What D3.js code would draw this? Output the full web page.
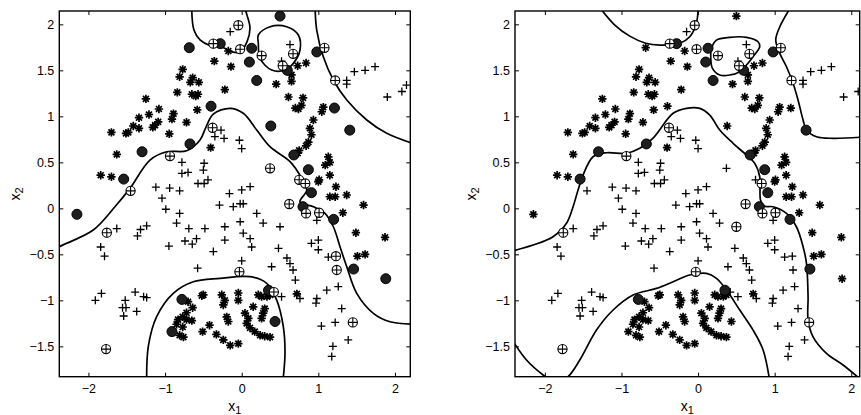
<!DOCTYPE html>
<html lang="en">
<head>
<meta charset="utf-8">
<title>SVM decision boundaries</title>
<script src="https://d3js.org/d3.v7.min.js"></script>
<style>
body { margin: 0; background: #fff; }
text { font-family: "Liberation Sans", Arial, sans-serif; fill: #000; }
</style>
</head>
<body>
<script>
const w = 861, h = 415;

const xTicks = [-2, -1, 0, 1, 2];
const xTickLabels = ["\u22122", "\u22121", "0", "1", "2"];
const yTicks = [-1.5, -1, -0.5, 0, 0.5, 1, 1.5, 2];
const yTickLabels = ["\u22121.5", "\u22121", "\u22120.5", "0", "0.5", "1", "1.5", "2"];

// class "+" samples
const plusPts = [
  [-0.15,1.92],[-0.37,1.79],[-0.044,1.99],[-0.02,1.73],[0.26,1.66],[0.63,1.78],[0.67,1.68],[0.52,1.60],[0.535,1.55],
  [1.08,1.745],[1.22,1.39],[1.37,1.39],[1.37,1.35],[1.47,1.485],[1.61,1.50],[1.74,1.54],[1.90,1.21],[2.09,1.27],[2.15,1.34],
  [-0.38,0.876],[-0.27,0.85],[-0.35,0.78],[-0.23,0.76],[-0.03,0.74],[0,0.65],
  [-0.936,0.568],[-0.78,0.50],[-0.78,0.38],[-0.70,0.39],[-0.49,0.49],[-0.50,0.416],[-0.57,0.27],[-0.49,0.27],[-0.44,0.31],
  [-1.12,0.23],[-0.94,0.22],[-0.81,0.19],[-1.45,0.19],[-1.04,0.11],[-0.16,0.16],[0,0.20],[0.11,0.235],[0.37,0.435],[0.75,0.31],[0.83,0.27],
  [-1.76,-0.265],[-1.63,-0.22],[-1.84,-0.42],[-1.79,-0.52],[-1.36,-0.30],[-1.32,-0.23],[-1.24,-0.19],[-0.99,-0.01],[-0.81,-0.055],
  [-0.85,-0.16],[-0.69,-0.22],[-0.48,-0.22],[-0.74,-0.355],[-0.645,-0.39],[-0.59,-0.33],[-0.95,-0.41],[-0.37,-0.47],[-0.575,-0.65],[-0.29,0.036],
  [-1.91,-1.0],[-1.83,-0.925],[-1.52,-1.0],[-1.555,-1.08],[-1.51,-1.08],[-1.54,-1.17],[-1.37,-1.12],[-1.39,-0.91],[-1.28,-0.96],[-1.24,-0.97],[-1.77,-1.53],
  [-0.11,0.018],[-0.02,0.05],[0.02,0.05],[0.196,-0.055],[-0.02,-0.146],[0.28,-0.16],[0.50,-0.20],[-0.22,-0.20],[-0.22,-0.345],
  [0.02,-0.27],[0.11,-0.33],[0.13,-0.42],[0,-0.57],[0.48,-0.435],[0.59,-0.54],[0.63,-0.60],[0.67,-0.67],[0.70,-0.78],[0.39,-0.635],
  [0.76,-0.98],[0.98,-0.98],[0.97,-1.03],[1.11,-0.89],[1.26,-0.85],[1.305,-1.09],[1.04,-1.28],[1.22,-1.24],[1.45,-1.24],
  [1.39,-1.43],[1.19,-1.50],[1.175,-1.61],[-0.03,-0.69],[0.42,-0.91],[0.52,-0.96],
  [0.91,-0.38],[1.0,-0.345],[1.0,-0.45],[1.13,-0.53],[1.23,-0.52],[1.24,-0.67],[0.62,0.047],[0.84,-0.055],[1.01,-0.048],[0.98,-0.13]
];

// class "*" samples
const starPts = [
  [-0.684,1.746],[-0.28,1.79],[-0.357,1.60],[-0.175,1.71],[-0.14,1.54],[0.50,2.09],[0.13,1.74],[0.10,1.59],
  [-0.77,1.51],[-0.81,1.43],[-0.64,1.42],[-0.67,1.37],[-0.56,1.37],[-0.84,1.26],[-0.65,1.24],[-0.57,1.24],[-0.60,1.22],
  [-1.25,1.19],[-0.58,1.07],[-0.40,1.11],[-0.22,1.29],
  [-1.08,1.08],[-1.21,1.02],[-0.89,1.03],[-1.34,0.985],[-0.91,0.97],[-0.72,0.935],[-1.09,0.94],[-1.13,0.905],[-1.16,0.88],
  [-1.415,0.895],[-1.34,0.87],[-1.48,0.826],[-1.51,0.815],[-1.70,0.826],[-0.945,0.81],
  [-0.405,0.66],[-0.675,0.70],[-1.30,0.615],[-1.63,0.587],[-1.84,0.36],[-1.70,0.343],[-1.54,0.318],[-2.15,-0.065],
  [0.73,1.55],[0.84,1.58],[0.65,1.45],[0.65,1.38],[0.196,1.39],[0.45,1.35],[0.61,1.21],[0.80,1.20],[0.78,1.12],[0.70,1.09],
  [0.74,1.08],[1.065,1.10],[1.045,1.05],[1.21,1.09],[0.935,0.96],[0.89,0.87],[0.91,0.80],[0.87,0.72],[0.84,0.68],[0.75,0.63],
  [0.73,0.60],[0.68,0.58],[0.38,0.895],[1.41,0.85],[1.13,0.56],[1.15,0.50],[1.09,0.47],[0.87,0.42],[1.01,0.31],[1.15,0.36],
  [0.98,1.70],[0.595,1.50],
  [0.91,0.17],[0.80,0.018],[1.20,-0.12],[1.32,-0.048],[1.15,0.126],[1.22,0.126],[1.37,0.145],[1.23,0.235],[1.59,0.036],
  [1.0,0.29],[1.49,-0.265],[1.87,-0.315],[1.51,-0.52],[1.61,-0.50],[1.46,-0.66],[1.88,-0.765],
  [-0.78,-0.99],[-0.70,-1.015],[-0.64,-1.08],[-0.72,-1.135],[-0.77,-1.18],[-0.83,-1.21],[-0.85,-1.26],[-0.72,-1.21],
  [-0.77,-1.29],[-0.81,-1.38],[-0.76,-1.40],[-0.65,-1.22],[-0.91,-1.34],[-0.52,-0.95],[-0.51,-1.34],[-0.42,-1.27],[-0.33,-1.37],
  [-0.50,-0.94],[-0.26,-0.94],[-0.22,-1.0],[-0.24,-1.05],[-0.044,-0.92],[-0.044,-1.0],[0.217,-0.94],[0.26,-0.96],[0.35,-0.89],
  [0.33,-0.96],[0.37,-0.94],[-0.196,-1.18],[-0.175,-1.23],[0.043,-1.14],[0.087,-1.196],[0.065,-1.25],[0.108,-1.30],[0.15,-1.07],
  [0.30,-1.09],[0.28,-1.14],[0.26,-1.196],[0.17,-1.34],[0.24,-1.38],[0.30,-1.39],[0.37,-1.40],[0.435,-1.23],
  [-0.24,-1.43],[-0.15,-1.49],[-0.044,-1.47],[0.72,-0.93]
];

// support vectors, left panel
const svStarLeft = [
  [-0.684,1.746],[-0.28,1.79],[-0.40,1.11],[-0.675,0.70],[-1.30,0.615],[-1.54,0.318],[-2.15,-0.065],[-0.78,-0.99],
  [-0.91,-1.34],[0.35,-0.89],[0.435,-1.23],[0.80,0.018],[1.20,-0.12],[1.46,-0.66],[1.88,-0.765],[0.91,0.17],[0.50,2.09],
  [0.13,1.74],[0.10,1.59],[0.595,1.50],[0.196,1.39],[1.21,1.09],[0.68,0.58],[0.38,0.895],[1.41,0.85],[0.87,0.42],[0.98,1.70]
];
const svPlusLeft = [
  [-0.37,1.79],[-0.38,0.876],[-0.936,0.568],[-1.45,0.19],[-1.76,-0.265],[-1.77,-1.53],[-0.03,-0.69],[0.42,-0.91],
  [1.45,-1.24],[1.23,-0.52],[1.24,-0.67],[0.62,0.047],[0.84,-0.055],[1.01,-0.048],[-0.044,1.99],[-0.02,1.73],[0.26,1.66],
  [0.67,1.68],[0.535,1.55],[0.37,0.435],[0.75,0.31],[0.83,0.27],[1.22,1.39],[1.08,1.745]
];

// support vectors, right panel
const svStarRight = [
  [-1.30,0.615],[-1.54,0.318],[-0.675,0.70],[-0.28,1.79],[0.13,1.74],[0.10,1.59],[0.595,1.50],[0.196,1.39],[0.98,1.70],
  [1.41,0.85],[0.68,0.58],[0.87,0.42],[0.91,0.17],[0.80,0.018],[1.20,-0.12],[1.46,-0.66],[0.35,-0.89],[-0.78,-0.99]
];
const svPlusRight = [
  [-0.936,0.568],[-0.044,1.99],[-0.37,1.79],[-0.02,1.73],[0.26,1.66],[0.67,1.68],[0.535,1.55],[1.08,1.745],[1.22,1.39],
  [-0.38,0.876],[0.83,0.27],[0.62,0.047],[0.84,-0.055],[1.01,-0.048],[0.50,-0.20],[1.45,-1.24],[-0.03,-0.69],
  [-1.76,-0.265],[-1.77,-1.53]
];

// decision boundaries, left panel
const bndLeftA = [[-0.653,2.2],[-0.623,1.938],[-0.544,1.83],[-0.414,1.77],[-0.257,1.753],[-0.127,1.70],[-0.022,1.70],[0.069,1.81],[0.108,1.96],[0.069,2.10],[0.03,2.2]];
const bndLeftB = [[0.217,1.884],[0.37,1.974],[0.587,1.974],[0.739,1.884],[0.761,1.721],[0.674,1.576],[0.565,1.503],[0.392,1.503],[0.239,1.63],[0.217,1.793]];
const bndLeftC = [[0.957,2.2],[0.979,1.938],[1.065,1.648],[1.196,1.395],[1.371,1.177],[1.632,0.96],[1.893,0.815],[2.25,0.70]];
const bndLeftD = [[-2.45,-0.45],[-2.381,-0.417],[-1.937,-0.236],[-1.654,0.017],[-1.458,0.217],[-1.197,0.525],[-0.979,0.615],[-0.718,0.626],
  [-0.544,0.742],[-0.466,0.884],[-0.371,1.025],[-0.153,1.087],[0.021,1.033],[0.196,0.851],[0.369,0.67],[0.631,0.507],[0.783,0.326],
  [0.849,0.199],[0.76,0.068],[0.935,0.017],[1.087,-0.054],[1.196,-0.2],[1.283,-0.417],[1.371,-0.635],[1.501,-0.924],[1.718,-1.141],
  [1.936,-1.233],[2.25,-1.26]];
const bndLeftE = [[-1.24,-1.9],[-1.219,-1.504],[-1.110,-1.178],[-0.893,-0.924],[-0.632,-0.798],[-0.283,-0.761],[0.108,-0.743],
  [0.326,-0.815],[0.457,-0.997],[0.543,-1.287],[0.565,-1.576],[0.535,-1.9]];

// decision boundaries, right panel
const bndRightF = [[-1.30,2.2],[-1.087,1.992],[-0.892,1.872],[-0.683,1.795],[-0.5,1.775],[-0.239,1.795],[-0.108,1.865],[-0.021,2.014],[0.0,2.2]];
const bndRightG = [[0.175,1.739],[0.240,1.829],[0.414,1.859],[0.632,1.859],[0.783,1.811],[0.805,1.757],[0.718,1.648],[0.632,1.558],
  [0.544,1.485],[0.414,1.449],[0.283,1.449],[0.188,1.522],[0.166,1.630]];
const bndRightH = [[1.22,2.2],[1.067,1.974],[1.014,1.829],[1.067,1.685],[1.154,1.539],[1.240,1.359],[1.305,1.177],[1.371,0.960],
  [1.415,0.851],[1.546,0.778],[1.762,0.761],[2.2,0.778]];
const bndRightI = [[-2.45,-0.47],[-2.154,-0.399],[-1.893,-0.309],[-1.718,-0.163],[-1.632,0.017],[-1.567,0.199],[-1.501,0.362],
  [-1.371,0.561],[-1.196,0.604],[-0.935,0.598],[-0.761,0.652],[-0.587,0.764],[-0.326,1.033],[-0.151,1.087],[0.022,1.087],
  [0.153,1.014],[0.283,0.851],[0.457,0.707],[0.632,0.579],[0.740,0.489],[0.805,0.343],[0.815,0.090],[0.86,0.025],[0.979,0.017],
  [1.154,-0.054],[1.284,-0.2],[1.371,-0.417],[1.415,-0.598],[1.436,-0.961],[1.436,-1.214],[1.501,-1.396],[1.676,-1.576],
  [1.893,-1.703],[2.15,-1.88]];
const bndRightJ = [[-2.45,-1.40],[-2.240,-1.649],[-2.023,-1.812],[-1.86,-1.90],[-1.697,-1.830],[-1.544,-1.649],[-1.326,-1.323],
  [-1.109,-1.105],[-0.848,-0.942],[-0.543,-0.870],[-0.326,-0.798],[-0.108,-0.725],[0.110,-0.707],[0.240,-0.761],[0.371,-0.888],
  [0.544,-1.105],[0.718,-1.323],[0.849,-1.540],[0.94,-1.9]];

const panels = [
  { id: "left", px: [59.3, 410.3], xDomain: [-2.38, 2.2], svStar: svStarLeft, svPlus: svPlusLeft,
    open: [bndLeftA, bndLeftC, bndLeftD, bndLeftE], closed: [bndLeftB], ylabX: 20 },
  { id: "right", px: [515, 859.7], xDomain: [-2.39, 2.11], svStar: svStarRight, svPlus: svPlusRight,
    open: [bndRightF, bndRightH, bndRightI, bndRightJ], closed: [bndRightG], ylabX: 476 }
];

const yRange = [376.7, 11];
const yDomain = [-1.83, 2.145];

const svg = d3.select("body").append("svg")
  .attr("width", w).attr("height", h);

function starPath(r) {
  let p = "";
  for (let k = 0; k < 4; k++) {
    const a = k * Math.PI / 4;
    const dx = r * Math.cos(a), dy = r * Math.sin(a);
    p += "M" + (-dx) + "," + (-dy) + "L" + dx + "," + dy;
  }
  return p;
}
const plusPath = "M-4,0L4,0M0,-4L0,4";

panels.forEach(function (p) {
  const x = d3.scaleLinear().domain(p.xDomain).range(p.px);
  const y = d3.scaleLinear().domain(yDomain).range(yRange);

  const g = svg.append("g").attr("id", p.id);

  g.append("clipPath").attr("id", "clip-" + p.id)
    .append("rect")
    .attr("x", p.px[0]).attr("y", yRange[1])
    .attr("width", p.px[1] - p.px[0]).attr("height", yRange[0] - yRange[1]);

  // axes with inward ticks
  g.append("g").attr("transform", "translate(0," + yRange[0] + ")")
    .call(d3.axisBottom(x).tickValues(xTicks).tickFormat((d, i) => xTickLabels[i])
      .tickSizeInner(-4).tickSizeOuter(0).tickPadding(7));
  g.append("g").attr("transform", "translate(0," + yRange[1] + ")")
    .call(d3.axisTop(x).tickValues(xTicks).tickFormat("")
      .tickSizeInner(-4).tickSizeOuter(0));
  g.append("g").attr("transform", "translate(" + p.px[0] + ",0)")
    .call(d3.axisLeft(y).tickValues(yTicks).tickFormat((d, i) => yTickLabels[i])
      .tickSizeInner(-4).tickSizeOuter(0).tickPadding(5));
  g.append("g").attr("transform", "translate(" + p.px[1] + ",0)")
    .call(d3.axisRight(y).tickValues(yTicks).tickFormat("")
      .tickSizeInner(-4).tickSizeOuter(0));

  g.selectAll(".domain").remove();
  g.selectAll(".tick line").attr("stroke", "#000").attr("stroke-width", 1);
  g.selectAll(".tick text").style("font-size", "12.5px")
    .style("font-family", "'Liberation Sans', Arial, sans-serif");

  g.append("rect")
    .attr("x", p.px[0]).attr("y", yRange[1])
    .attr("width", p.px[1] - p.px[0]).attr("height", yRange[0] - yRange[1])
    .attr("fill", "none").attr("stroke", "#000").attr("stroke-width", 1.4);

  const plot = g.append("g").attr("clip-path", "url(#clip-" + p.id + ")");

  // decision boundaries
  const line = d3.line().x(d => x(d[0])).y(d => y(d[1])).curve(d3.curveCatmullRom.alpha(0.5));
  const lineClosed = d3.line().x(d => x(d[0])).y(d => y(d[1])).curve(d3.curveCatmullRomClosed.alpha(0.5));
  plot.selectAll(".bnd").data(p.open).enter().append("path")
    .attr("d", line).attr("fill", "none").attr("stroke", "#000").attr("stroke-width", 1.7);
  plot.selectAll(".bndc").data(p.closed).enter().append("path")
    .attr("d", lineClosed).attr("fill", "none").attr("stroke", "#000").attr("stroke-width", 1.7);

  // samples
  plot.selectAll(".plus").data(plusPts).enter().append("path")
    .attr("transform", d => "translate(" + x(d[0]) + "," + y(d[1]) + ")")
    .attr("d", plusPath).attr("stroke", "#000").attr("stroke-width", 1.3);
  plot.selectAll(".star").data(starPts).enter().append("path")
    .attr("transform", d => "translate(" + x(d[0]) + "," + y(d[1]) + ")")
    .attr("d", starPath(4.2)).attr("stroke", "#000").attr("stroke-width", 1.7);

  // support vectors
  plot.selectAll(".svs").data(p.svStar).enter().append("circle")
    .attr("cx", d => x(d[0])).attr("cy", d => y(d[1])).attr("r", 5)
    .attr("fill", "#1e1e1e").attr("stroke", "#000").attr("stroke-width", 1);
  const svp = plot.selectAll(".svp").data(p.svPlus).enter().append("g")
    .attr("transform", d => "translate(" + x(d[0]) + "," + y(d[1]) + ")");
  svp.append("circle").attr("r", 4.6).attr("fill", "#fff").attr("stroke", "#000").attr("stroke-width", 1.1);
  svp.append("path").attr("d", "M-4.6,0L4.6,0M0,-4.6L0,4.6").attr("stroke", "#000").attr("stroke-width", 1.1);

  // axis labels
  const xl = g.append("text")
    .attr("x", (p.px[0] + p.px[1]) / 2).attr("y", 411)
    .attr("text-anchor", "middle").style("font-size", "14px");
  xl.append("tspan").text("x");
  xl.append("tspan").attr("dy", 3).style("font-size", "11px").text("1");

  const yl = g.append("text")
    .attr("transform", "translate(" + p.ylabX + "," + ((yRange[0] + yRange[1]) / 2) + ") rotate(-90)")
    .attr("text-anchor", "middle").style("font-size", "14px");
  yl.append("tspan").text("x");
  yl.append("tspan").attr("dy", 3).style("font-size", "11px").text("2");
});
</script>
</body>
</html>
